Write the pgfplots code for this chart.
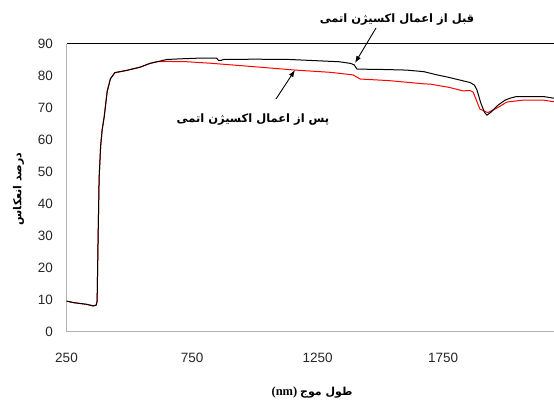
\documentclass[border=0pt]{standalone}
\usepackage{fontspec}
\setmainfont{Liberation Sans}
\newfontfamily\arabicfont[Script=Arabic]{DejaVu Sans}
\newfontfamily\timesfont{Liberation Serif}
\TeXXeTstate=1
\usepackage{pgfplots}
\pgfplotsset{compat=1.18}
\usetikzlibrary{arrows.meta}

\pgfplotstableread{
nm val
250 9.5
280 9.0
300 8.8
330 8.5
356 8.0
368 8.2
372 9.5
376 30
380 48
386 58
392 63
400 67
412 75
425 79
443 80.9
490 81.6
543 82.6
583 83.8
622 84.5
649 85.0
700 85.2
769 85.4
848 85.4
856 84.7
866 84.7
874 85.0
1000 85.1
1140 85.0
1252 84.6
1336 84.3
1380 83.8
1395 83.4
1407 82.0
1500 81.9
1603 81.7
1674 81.2
1720 80.3
1774 79.4
1858 77.8
1875 77.0
1885 75.5
1900 71.5
1915 68.5
1925 67.6
1940 68.5
1970 70.8
1997 72.3
2017 72.9
2041 73.4
2152 73.4
2192 72.9
}\before

\pgfplotstableread{
nm val
250 9.5
280 9.0
300 8.8
330 8.5
356 8.0
368 8.2
372 9.5
376 30
380 48
386 58
392 63
400 67
412 75
425 79
443 80.9
490 81.6
543 82.6
583 83.8
610 84.3
650 84.4
730 84.3
830 83.8
1021 82.6
1160 81.7
1300 81.0
1391 80.2
1420 78.9
1535 78.4
1674 77.4
1700 77.3
1774 76.3
1829 75.2
1858 75.3
1870 74.8
1897 69.5
1928 68.4
1964 69.8
2004 71.7
2068 72.3
2150 72.3
2192 71.8
}\after

\begin{document}
\begin{tikzpicture}[x=1pt,y=1pt]
\clip (0,0) rectangle (554,405);
\begin{axis}[
  at={(66.5pt,73.5pt)}, anchor=south west,
  scale only axis, width=487.5pt, height=288pt,
  xmin=250, xmax=2192, ymin=0, ymax=90,
  axis x line*=bottom, axis y line*=left,
  axis line style={draw=black!30, line width=1.3pt, -},
  xtick={250,750,1250,1750}, ytick={0,10,...,90},
  major tick length=0pt,
  extra y ticks={90}, extra y tick labels={},
  extra y tick style={grid=major, major grid style={black, line width=0.8pt}},
  scaled ticks=false,
  /pgf/number format/1000 sep={},
  /pgf/number format/assume math mode=true,
  tick label style={font=\fontsize{13.5}{14}\selectfont, text=black!85},
  xticklabel style={anchor=north, inner sep=0pt, yshift=-21.5pt},
  yticklabel style={anchor=east, inner sep=0pt, xshift=-13.5pt},
]
\addplot[red, line width=1pt] table[x=nm, y=val] {\after};
\addplot[black, line width=1pt] table[x=nm, y=val] {\before};
\end{axis}
\node[font=\arabicfont\bfseries\fontsize{11.5}{13}\selectfont] at (397,385) {\beginR قبل از اعمال اکسیژن اتمی\endR};
\draw[-{Latex[length=7pt,width=5pt]}, line width=0.9pt] (376,377) -- (355,342);
\node[font=\arabicfont\bfseries\fontsize{11.5}{13}\selectfont] at (253,285) {\beginR پس از اعمال اکسیژن اتمی\endR};
\draw[-{Latex[length=7pt,width=5pt]}, line width=0.9pt] (276,306) -- (295,335);
\node at (312,12) {{\timesfont\bfseries\fontsize{12.5}{14}\selectfont (nm)} {\arabicfont\bfseries\fontsize{11}{13}\selectfont\beginR طول موج\endR}};
\node[rotate=90, font=\arabicfont\bfseries\fontsize{11}{13}\selectfont] at (18.5,216) {\beginR درصد انعکاس\endR};
\end{tikzpicture}
\end{document}
